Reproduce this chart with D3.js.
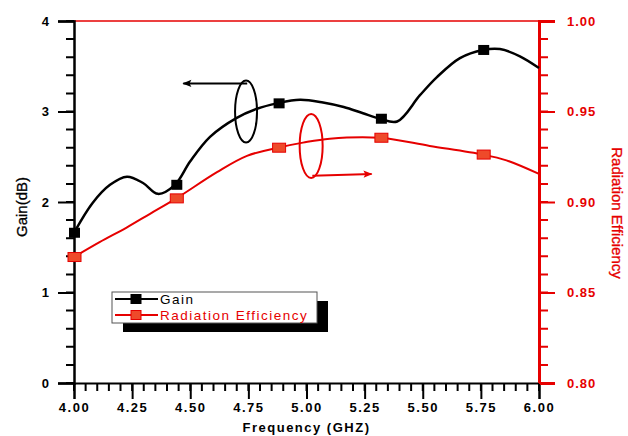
<!DOCTYPE html>
<html>
<head>
<meta charset="utf-8">
<script src="https://cdn.jsdelivr.net/npm/d3@7"></script>
<style>
  body { margin: 0; background: #fff; }
  text { font-family: Arial, "Liberation Sans", sans-serif; }
</style>
</head>
<body>
<script>
// gain curve
const gainFreq = [4.0, 4.08, 4.155, 4.228, 4.297, 4.361, 4.434, 4.5, 4.585, 4.70, 4.787, 4.873, 4.972, 5.071, 5.16, 5.243, 5.316, 5.39, 5.488, 5.561, 5.66, 5.759, 5.832, 5.918, 6.0];
const gainVal  = [1.66, 1.99, 2.19, 2.28, 2.21, 2.09, 2.19, 2.45, 2.72, 2.93, 3.03, 3.09, 3.13, 3.10, 3.05, 2.98, 2.92, 2.89, 3.18, 3.38, 3.59, 3.68, 3.69, 3.61, 3.48];
// radiation efficiency curve
const effFreq = [4.0, 4.11, 4.228, 4.327, 4.44, 4.615, 4.744, 4.877, 4.985, 5.10, 5.316, 5.53, 5.759, 5.86, 6.0];
const effVal  = [0.8696, 0.8778, 0.886, 0.8935, 0.902, 0.9165, 0.9255, 0.930, 0.9328, 0.935, 0.9355, 0.931, 0.9262, 0.923, 0.9155];
// symbol positions
const markFreq = [4.0, 4.44, 4.88, 5.32, 5.76];
const gainMark = [1.66, 2.19, 3.09, 2.92, 3.68];
const effMark  = [0.8696, 0.902, 0.930, 0.9355, 0.9262];

const xTicks = [4.0, 4.25, 4.5, 4.75, 5.0, 5.25, 5.5, 5.75, 6.0];
const gainTicks = [0, 1, 2, 3, 4];
const effTicks = [0.80, 0.85, 0.90, 0.95, 1.00];

const W = 628, H = 436;
const margin = {top: 21, right: 89, bottom: 53, left: 74};
const width = W - margin.left - margin.right;
const height = H - margin.top - margin.bottom;
const RED = '#e60000';

const svg = d3.select('body').append('svg')
  .attr('width', W)
  .attr('height', H);

const g = svg.append('g')
  .attr('transform', `translate(${margin.left},${margin.top})`);

const x = d3.scaleLinear().domain([4, 6]).range([0, width]);
const yG = d3.scaleLinear().domain([0, 4]).range([height, 0]);
const yE = d3.scaleLinear().domain([0.8, 1.0]).range([height, 0]);

// top frame line (red)
g.append('line')
  .attr('x1', 0).attr('x2', width).attr('y1', 0).attr('y2', 0)
  .attr('stroke', RED).attr('stroke-width', 1.5);

function styleAxis(sel, color, domW, fs, ls) {
  sel.selectAll('.domain').attr('stroke', color).attr('stroke-width', domW);
  sel.selectAll('.tick line').attr('stroke', color).attr('stroke-width', 2);
  sel.selectAll('.tick text')
    .attr('font-size', fs).attr('font-weight', 'bold')
    .style('letter-spacing', ls).attr('fill', color);
}

g.append('g').attr('transform', `translate(0,${height})`)
  .call(d3.axisBottom(x).tickValues(xTicks).tickSize(16).tickPadding(4).tickFormat(d3.format('.2f')))
  .call(s => styleAxis(s, '#000', 2, 13, '1.5px'));

g.append('g')
  .call(d3.axisLeft(yG).tickValues(gainTicks).tickSize(16).tickPadding(9).tickFormat(d3.format('d')))
  .call(s => styleAxis(s, '#000', 2.5, 13, '0px'));

g.append('g').attr('transform', `translate(${width},0)`)
  .call(d3.axisRight(yE).tickValues(effTicks).tickSize(16).tickPadding(12).tickFormat(d3.format('.2f')))
  .call(s => styleAxis(s, RED, 3, 13, '1px'));

// minor ticks as single paths
const xMinor = d3.range(0, 41).map(i => 4 + i * 0.05);
const gMinor = d3.range(0, 21).map(i => i * 0.2);
const eMinor = d3.range(0, 21).map(i => 0.8 + i * 0.01);

g.append('path')
  .attr('d', xMinor.map(v => `M${x(v)},${height}v8`).join(''))
  .attr('fill', 'none').attr('stroke', '#000').attr('stroke-width', 2);
g.append('path')
  .attr('d', gMinor.map(v => `M0,${yG(v)}h-8`).join(''))
  .attr('fill', 'none').attr('stroke', '#000').attr('stroke-width', 2);
g.append('path')
  .attr('d', eMinor.map(v => `M${width},${yE(v)}h9`).join(''))
  .attr('fill', 'none').attr('stroke', RED).attr('stroke-width', 2);

// axis titles
svg.append('text')
  .attr('x', margin.left + width / 2).attr('y', 432)
  .attr('text-anchor', 'middle')
  .attr('font-size', 13).attr('font-weight', 'bold')
  .style('letter-spacing', '1.5px')
  .text('Frequency (GHZ)');

svg.append('text')
  .attr('transform', 'translate(27,207) rotate(-90)')
  .attr('text-anchor', 'middle')
  .attr('font-size', 15)
  .attr('stroke', '#000').attr('stroke-width', 0.3)
  .text('Gain(dB)');

svg.append('text')
  .attr('transform', 'translate(612,213) rotate(90)')
  .attr('text-anchor', 'middle')
  .attr('font-size', 15).attr('fill', RED)
  .attr('stroke', RED).attr('stroke-width', 0.3)
  .text('Radiation Efficiency');

// curves
const gainPts = gainFreq.map((f, i) => [f, gainVal[i]]);
const effPts = effFreq.map((f, i) => [f, effVal[i]]);

g.append('path')
  .datum(effPts)
  .attr('fill', 'none').attr('stroke', RED).attr('stroke-width', 2)
  .attr('d', d3.line().x(d => x(d[0])).y(d => yE(d[1])).curve(d3.curveCatmullRom.alpha(0.5)));

g.append('path')
  .datum(gainPts)
  .attr('fill', 'none').attr('stroke', '#000').attr('stroke-width', 2.5)
  .attr('d', d3.line().x(d => x(d[0])).y(d => yG(d[1])).curve(d3.curveCatmullRom.alpha(0.5)));

g.selectAll('rect.gm').data(markFreq).join('rect')
  .attr('class', 'gm')
  .attr('x', d => x(d) - 5).attr('y', (d, i) => yG(gainMark[i]) - 5)
  .attr('width', 11).attr('height', 10)
  .attr('fill', '#000');

g.selectAll('rect.em').data(markFreq).join('rect')
  .attr('class', 'em')
  .attr('x', d => x(d) - 6).attr('y', (d, i) => yE(effMark[i]) - 4.5)
  .attr('width', 13).attr('height', 9)
  .attr('fill', '#ee4a2a').attr('stroke', RED).attr('stroke-width', 1);

// annotation ellipses + arrows (positions in data units)
const marker = (id, color) => {
  svg.append('defs').append('marker')
    .attr('id', id).attr('viewBox', '0 0 10 10')
    .attr('refX', 9).attr('refY', 5)
    .attr('markerWidth', 18).attr('markerHeight', 9)
    .attr('markerUnits', 'userSpaceOnUse')
    .attr('orient', 'auto')
    .append('path').attr('d', 'M0,1 L10,5 L0,9 L2,5 Z').attr('fill', color);
};
marker('arrBlack', '#000');
marker('arrRed', RED);

g.append('ellipse')
  .attr('cx', x(4.74)).attr('cy', yG(3.0)).attr('rx', 11).attr('ry', 31)
  .attr('fill', 'none').attr('stroke', '#000').attr('stroke-width', 2);
g.append('line')
  .attr('x1', x(4.745)).attr('y1', yG(3.31))
  .attr('x2', x(4.47)).attr('y2', yG(3.31))
  .attr('stroke', '#000').attr('stroke-width', 2)
  .attr('marker-end', 'url(#arrBlack)');

g.append('ellipse')
  .attr('cx', x(5.02)).attr('cy', yE(0.931)).attr('rx', 11.5).attr('ry', 32)
  .attr('fill', 'none').attr('stroke', RED).attr('stroke-width', 2);
g.append('line')
  .attr('x1', x(5.025)).attr('y1', yE(0.9145))
  .attr('x2', x(5.28)).attr('y2', yE(0.9155))
  .attr('stroke', RED).attr('stroke-width', 2)
  .attr('marker-end', 'url(#arrRed)');

// legend with shadow
const leg = svg.append('g').attr('transform', 'translate(112,292)');
leg.append('rect').attr('x', 11).attr('y', 9).attr('width', 205).attr('height', 31).attr('fill', '#000');
leg.append('rect').attr('x', 0).attr('y', 0).attr('width', 205).attr('height', 31)
  .attr('fill', '#fff').attr('stroke', '#555').attr('stroke-width', 1);

const legItems = [
  {label: 'Gain', color: '#000', fill: '#000', y: 7},
  {label: 'Radiation Efficiency', color: RED, fill: '#ee4a2a', y: 23}
];
legItems.forEach(it => {
  leg.append('line').attr('x1', 3).attr('x2', 46).attr('y1', it.y).attr('y2', it.y)
    .attr('stroke', it.color).attr('stroke-width', 2);
  leg.append('rect').attr('x', 19).attr('y', it.y - 4.5).attr('width', 10).attr('height', 9)
    .attr('fill', it.fill).attr('stroke', it.color);
  leg.append('text').attr('x', 48).attr('y', it.y + 5)
    .attr('font-size', 13.5).attr('fill', it.color)
    .style('letter-spacing', '1.5px')
    .text(it.label);
});
</script>
</body>
</html>
